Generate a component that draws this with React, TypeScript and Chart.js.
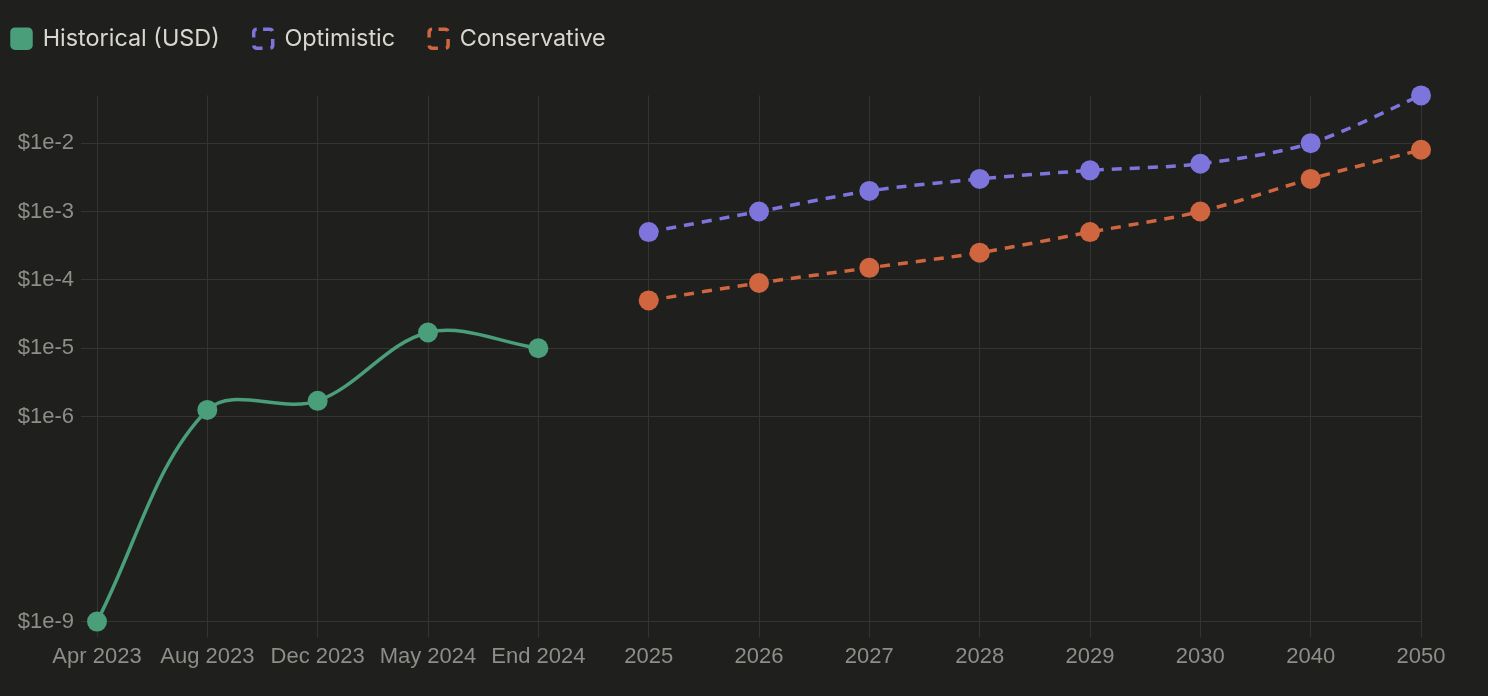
import { useEffect, useRef } from "react";
import { Chart, registerables } from "chart.js";

Chart.register(...registerables);

const categories = [
  "Apr 2023", "Aug 2023", "Dec 2023", "May 2024", "End 2024",
  "2025", "2026", "2027", "2028", "2029", "2030", "2040", "2050",
];
const historical = [1e-9, 1.25e-6, 1.7e-6, 1.7e-5, 1e-5, null, null, null, null, null, null, null, null];
const optimistic = [null, null, null, null, null, 5e-4, 1e-3, 2e-3, 3e-3, 4e-3, 5e-3, 1e-2, 5e-2];
const conservative = [null, null, null, null, null, 5e-5, 9e-5, 1.5e-4, 2.5e-4, 5e-4, 1e-3, 3e-3, 8e-3];
const yTickValues = [1e-9, 1e-6, 1e-5, 1e-4, 1e-3, 1e-2];
const yMin = 1e-9;
const yMax = 5e-2;

const GREEN = "#4a9e79";
const PURPLE = "#7d75dc";
const ORANGE = "#d0663f";
const GRID = "#343432";
const TICK = "#8e8d88";
const LEGEND_TEXT = "#d9d7cf";
const BG = "#1f1f1e";

export default function App() {
  const ref = useRef<HTMLCanvasElement | null>(null);

  useEffect(() => {
    document.body.style.margin = "0";
    document.body.style.background = BG;
    if (!ref.current) return;
    const shiftLegend = {
      id: "shiftLegend",
      afterLayout(chart: any) {
        if (chart.legend) {
          chart.legend.left -= 22;
          chart.legend.top -= 35;
        }
      },
    };
    const lineCommon = {
      borderWidth: 3.5,
      pointRadius: 10,
      pointBorderWidth: 0,
      clip: false,
    };
    const chart = new Chart(ref.current, {
      type: "line",
      data: {
        labels: categories,
        datasets: [
          {
            ...lineCommon,
            label: "Historical (USD)",
            data: historical,
            borderColor: GREEN,
            backgroundColor: GREEN,
            pointBackgroundColor: GREEN,
            pointBorderColor: GREEN,
            tension: 0.35,
          },
          {
            ...lineCommon,
            label: "Optimistic",
            data: optimistic,
            borderColor: PURPLE,
            backgroundColor: "transparent",
            pointBackgroundColor: PURPLE,
            pointBorderColor: PURPLE,
            borderDash: [10, 8],
            tension: 0.3,
          },
          {
            ...lineCommon,
            label: "Conservative",
            data: conservative,
            borderColor: ORANGE,
            backgroundColor: "transparent",
            pointBackgroundColor: ORANGE,
            pointBorderColor: ORANGE,
            borderDash: [10, 8],
            tension: 0.3,
          },
        ] as any,
      },
      options: {
        animation: false,
        responsive: true,
        maintainAspectRatio: false,
        layout: { padding: { left: 0, right: 67, top: 28, bottom: 20 } },
        plugins: {
          legend: {
            position: "top",
            align: "start",
            labels: {
              color: LEGEND_TEXT,
              font: { family: "Inter", size: 23.4 },
              boxWidth: 19,
              boxHeight: 19,
              padding: 34,
              useBorderRadius: true,
              borderRadius: 3,
            },
          },
          tooltip: { enabled: false },
        },
        scales: {
          x: {
            offset: false,
            grid: { color: GRID, lineWidth: 1, tickLength: 16, drawTicks: true },
            border: { display: false },
            ticks: {
              color: TICK,
              font: { family: "'Liberation Sans', Arial, sans-serif", size: 22 },
              padding: 6,
              maxRotation: 0,
              autoSkip: false,
            },
          },
          y: {
            type: "logarithmic",
            min: yMin,
            max: yMax,
            afterBuildTicks: (scale: any) => {
              scale.ticks = yTickValues.map((v) => ({ value: v }));
            },
            afterFit: (scale: any) => {
              scale.width = 97;
            },
            grid: { color: GRID, lineWidth: 1, tickLength: 16 },
            border: { display: false },
            ticks: {
              color: TICK,
              font: { family: "'Liberation Sans', Arial, sans-serif", size: 22 },
              padding: 7,
              autoSkip: false,
              callback: (v: any) => "$" + Number(v).toExponential(),
            },
          },
        },
      },
      plugins: [shiftLegend],
    });
    return () => chart.destroy();
  }, []);

  return (
    <div style={{ width: 1488, height: 696, position: "relative", background: BG }}>
      <canvas ref={ref} />
    </div>
  );
}
